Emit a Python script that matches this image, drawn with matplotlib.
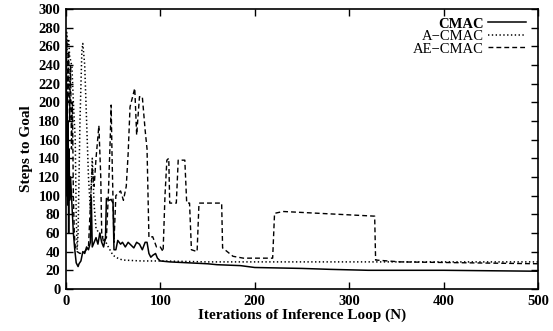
import matplotlib
matplotlib.use("Agg")
import matplotlib.pyplot as plt

plt.rcParams['font.family'] = ['Liberation Serif', 'DejaVu Serif']

# CMAC (solid)
cmac_x = [0, 0.5, 1, 1.5, 2, 2.5, 3, 3.5, 4, 5, 6, 7, 8, 9.5, 11, 13, 14, 16, 18, 20,
          22, 24, 26, 27, 28, 30, 32, 34, 36, 38, 40, 42, 43, 46, 48, 50, 51, 53, 55,
          58, 60, 63, 66, 69, 72, 75, 78, 81, 84, 86, 88, 90, 92, 95, 97, 100, 110,
          130, 150, 160, 185, 200, 250, 280, 320, 400, 500]
cmac_y = [140, 230, 100, 210, 90, 180, 60, 150, 95, 120, 100, 80, 60, 42, 28, 24, 27, 30,
          40, 38, 45, 42, 50, 98, 45, 50, 55, 48, 60, 50, 45, 55, 97, 95, 96, 92, 42, 42,
          52, 48, 50, 45, 50, 47, 44, 50, 48, 42, 50, 50, 38, 34, 36, 38, 33, 30, 29,
          28, 27, 26, 25, 23, 22, 21, 20, 20, 19]

# A-CMAC (dotted)
acmac_x = [0, 1, 2, 3, 4, 6.5, 8, 10, 11, 12, 13, 15, 17, 18, 20, 22, 24, 26, 28, 30,
           32, 35, 40, 45, 50, 55, 60, 80, 100, 150, 200, 500]
acmac_y = [230, 275, 260, 268, 250, 238, 200, 160, 80, 42, 60, 180, 255, 263, 240, 180,
           120, 85, 140, 90, 65, 60, 55, 45, 36, 33, 31, 30, 30, 29, 29, 29]

# AE-CMAC (dashed)
aecmac_x = [0, 1, 2, 3, 4, 5, 6, 7, 8, 9, 10, 12, 15, 20, 24, 26, 28, 30, 32, 35, 37,
            38, 40, 43, 45, 47, 48, 49, 51, 53, 58, 61, 64, 66, 68, 73, 75, 78, 81, 84,
            86, 88, 92, 96, 100, 103, 105, 107, 109, 110, 117, 119, 126, 128, 131, 133,
            139, 141, 165, 166, 177, 188, 219, 221, 230, 327, 328, 354, 500]
aecmac_y = [150, 265, 200, 255, 180, 240, 150, 200, 100, 60, 45, 40, 38, 40, 45, 90,
            130, 110, 140, 175, 120, 60, 50, 55, 100, 160, 197, 140, 50, 100, 105, 95,
            110, 145, 195, 215, 165, 206, 206, 170, 150, 55, 56, 45, 45, 40, 100, 138,
            140, 92, 92, 138, 138, 92, 92, 42, 40, 92, 92, 44, 35, 33, 33, 81, 83, 78,
            31, 29, 27]

fig = plt.figure(figsize=(5.53, 3.31), dpi=100)
ax = fig.add_axes([0.119, 0.127, 0.854, 0.846])

ax.plot(cmac_x, cmac_y, color='black', lw=1.1, label='CMAC')
ax.plot(acmac_x, acmac_y, color='black', lw=1.1, linestyle=(0, (0.9, 1.6)), label='A\u2212CMAC')
ax.plot(aecmac_x, aecmac_y, color='black', lw=1.0, linestyle=(0, (3.5, 2.2)), label='AE\u2212CMAC')

ax.set_xlim(0, 500)
ax.set_ylim(0, 300)
ax.set_xticks(range(0, 501, 100))
ax.set_yticks(range(0, 301, 20))
ax.tick_params(direction='in', length=5, width=1, top=True, right=True, labelsize=10.5, pad=4)
for lab in ax.get_xticklabels() + ax.get_yticklabels():
    lab.set_fontweight('bold')
for s in ax.spines.values():
    s.set_linewidth(1.2)

ax.set_xlabel('Iterations of Inference Loop (N)', fontsize=11, fontweight='bold', labelpad=1)
ax.set_ylabel('Steps to Goal', fontsize=11, fontweight='bold', labelpad=4)

leg = ax.legend(loc='upper right', markerfirst=False, frameon=False, fontsize=10.5,
                handlelength=2.6, handletextpad=0.3, labelspacing=-0.05,
                borderaxespad=0.0, borderpad=0.0, bbox_to_anchor=(0.975, 0.97))
leg.get_texts()[0].set_fontweight('bold')

fig.savefig('out.png', dpi=100)
